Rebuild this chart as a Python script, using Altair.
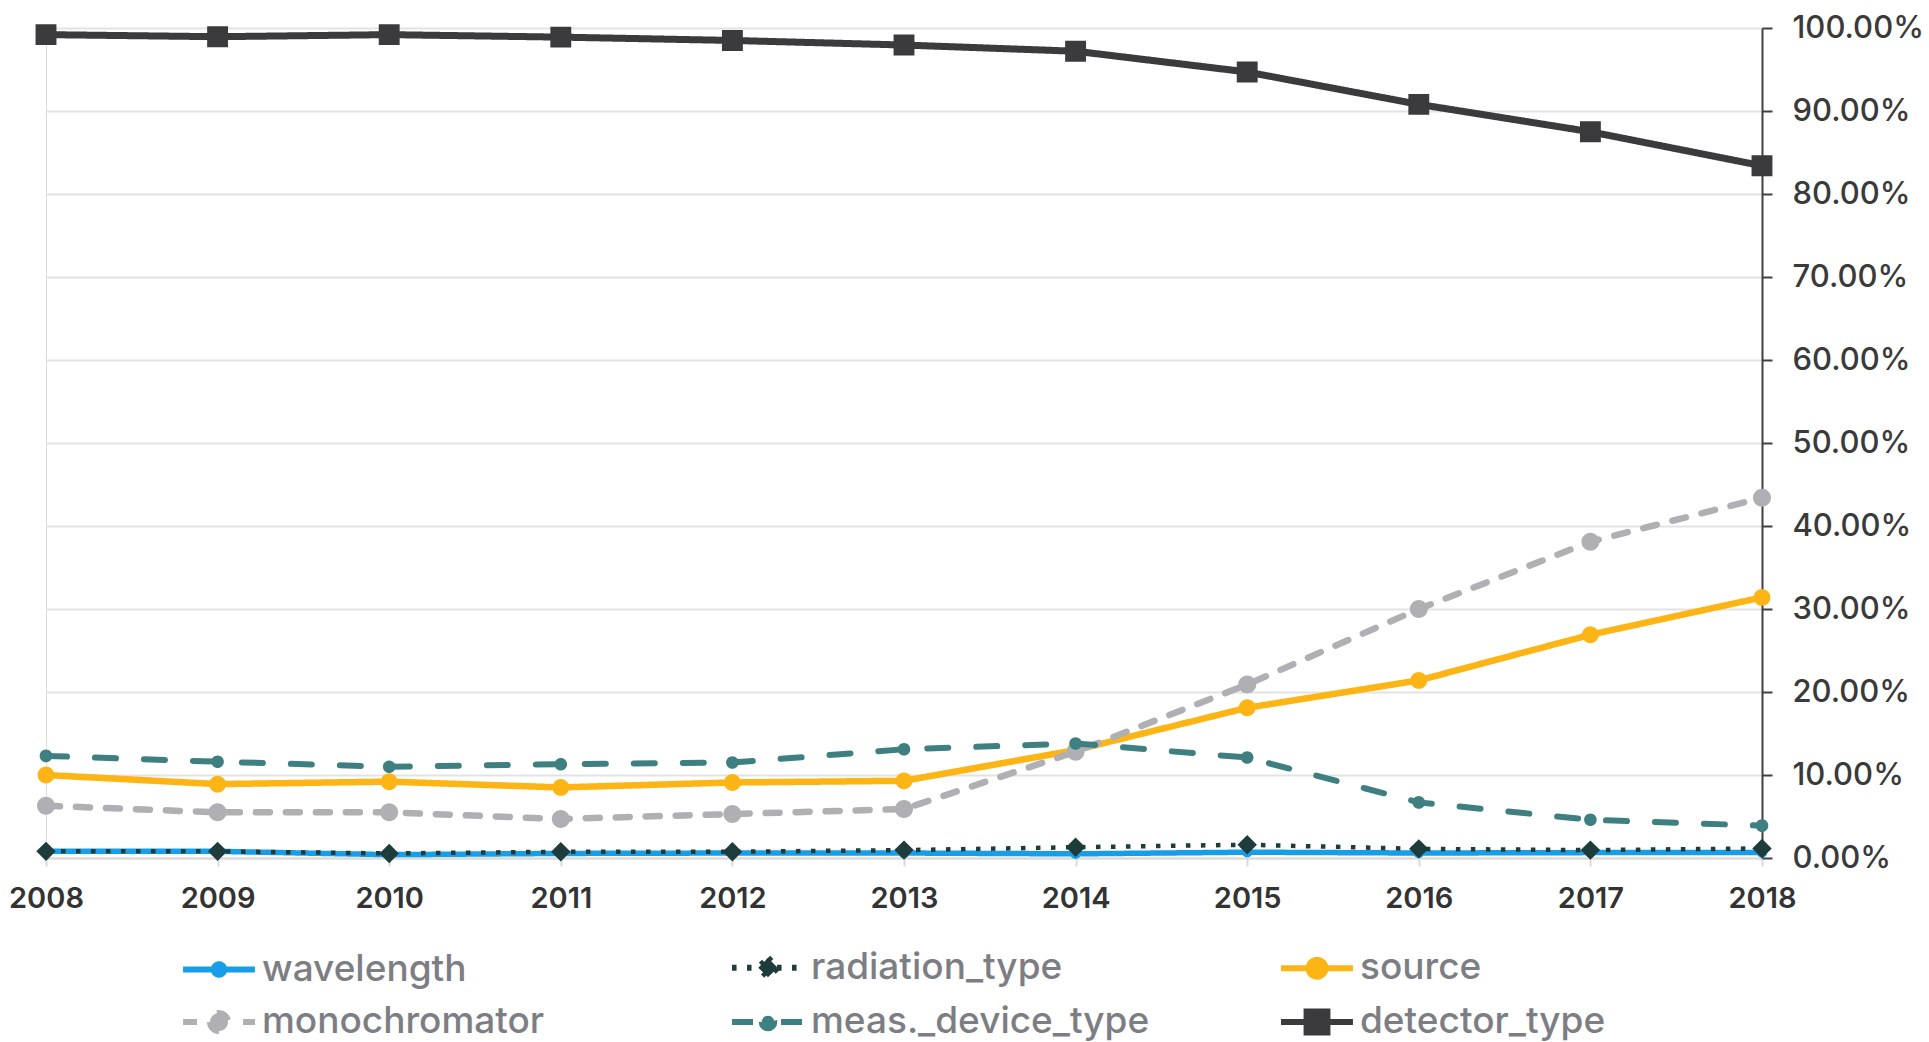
import altair as alt
import pandas as pd

years = [2008, 2009, 2010, 2011, 2012, 2013, 2014, 2015, 2016, 2017, 2018]
series_names = ["wavelength", "radiation_type", "source", "monochromator",
                "meas._device_type", "detector_type"]

wavelength = [0.80, 0.80, 0.40, 0.55, 0.60, 0.60, 0.50, 0.70, 0.60, 0.65, 0.65]
radiation_type = [0.80, 0.80, 0.55, 0.75, 0.75, 0.95, 1.30, 1.60, 1.10, 0.95, 1.15]
source = [10.0, 8.9, 9.2, 8.5, 9.1, 9.3, 13.0, 18.1, 21.4, 26.9, 31.4]
monochromator = [6.3, 5.5, 5.5, 4.7, 5.3, 5.9, 12.8, 20.9, 30.0, 38.1, 43.4]
meas_device_type = [12.3, 11.6, 11.0, 11.3, 11.5, 13.1, 13.8, 12.1, 6.7, 4.6, 3.9]
detector_type = [99.2, 98.95, 99.2, 98.9, 98.5, 97.95, 97.2, 94.7, 90.8, 87.5, 83.4]

colors = ["#179ee8", "#1e3c3c", "#fdb515", "#b0b0b4", "#3e8081", "#3b3b3d"]
dashes = [[1, 0], [4.5, 10.5], [1, 0], [14, 16], [21, 28], [1, 0]]
widths = [5.5, 4.5, 6.5, 6.5, 6, 7]
caps = ["round", "butt", "round", "round", "round", "round"]

SYM = 3364  # symbol area: unit = sqrt(SYM)/2 = 29 px


def circle(r):
    return f"M-1.24,0H1.24M{-r},0A{r},{r} 0 1 0 {r},0A{r},{r} 0 1 0 {-r},0Z"


shapes = [
    circle(0.18),
    "M-1.24,0H1.24M0,-0.335L0.335,0L0,0.335L-0.335,0Z",
    circle(0.29),
    circle(0.31),
    circle(0.217),
    "M-1.24,0H1.24M-0.36,-0.36H0.36V0.36H-0.36Z",
]

all_values = [wavelength, radiation_type, source, monochromator,
              meas_device_type, detector_type]
rows = []
for name, vals in zip(series_names, all_values):
    for y, v in zip(years, vals):
        rows.append({"year": y, "series": name, "value": v / 100.0})
df = pd.DataFrame(rows)

FONT = "Inter"

x_enc = alt.X(
    "year:Q",
    scale=alt.Scale(domain=[2008, 2018], nice=False, zero=False),
    axis=alt.Axis(
        values=years, format="d", title=None, grid=False, labelFlush=False,
        domainColor="#d9d9d9", domainWidth=2,
        tickColor="#d9d9d9", tickWidth=2, tickSize=8,
        labelFontSize=29, labelFont=FONT, labelFontWeight=600,
        labelColor="#333333", labelPadding=18,
    ),
)
y_enc = alt.Y(
    "value:Q",
    scale=alt.Scale(domain=[0, 1], nice=False),
    axis=alt.Axis(
        orient="right", values=[i / 10 for i in range(11)], format=".2%",
        title=None, grid=True, gridColor="#e3e3e3", gridWidth=2,
        domainColor="#404040", domainWidth=2,
        tickColor="#404040", tickWidth=2, tickSize=10,
        labelFontSize=31, labelFont=FONT, labelFontWeight=500,
        labelColor="#3a3a3a", labelPadding=20,
    ),
)

legend = alt.Legend(
    title=None, orient="none", direction="horizontal", columns=3,
    legendX=141, legendY=907, gridAlign="all",
    labelFontSize=37, labelFont=FONT, labelFontWeight=500,
    labelColor="#7d7e83", labelOffset=11, labelLimit=700,
    symbolSize=SYM, symbolStrokeWidth=6, columnPadding=119, rowPadding=0,
    symbolOpacity=1,
)

color_enc = alt.Color("series:N", scale=alt.Scale(domain=series_names, range=colors),
                      legend=legend)
dash_enc = alt.StrokeDash("series:N", scale=alt.Scale(domain=series_names, range=dashes),
                          legend=legend)
shape_enc = alt.Shape("series:N", scale=alt.Scale(domain=series_names, range=shapes),
                      legend=legend)

base = alt.Chart(df)
layers = []
for name, w, cap in zip(series_names, widths, caps):
    sub = base.transform_filter(alt.datum.series == name)
    layers.append(
        sub.mark_line(strokeWidth=w, strokeJoin="round", strokeCap=cap).encode(
            x=x_enc, y=y_enc, color=color_enc, strokeDash=dash_enc
        )
    )
    layers.append(
        sub.mark_point(filled=True, opacity=1, size=SYM, strokeWidth=0).encode(
            x=x_enc, y=y_enc, color=color_enc, shape=shape_enc
        )
    )

chart = alt.layer(*layers).properties(
    width=1716, height=830,
    autosize=alt.AutoSizeParams(type="none"),
    padding={"left": 46, "top": 28, "right": 167, "bottom": 184},
).configure_view(stroke="#b5b5b5", strokeWidth=2).configure(background="white")

chart.save("out.html", embed_options={"renderer": "svg", "actions": False})
